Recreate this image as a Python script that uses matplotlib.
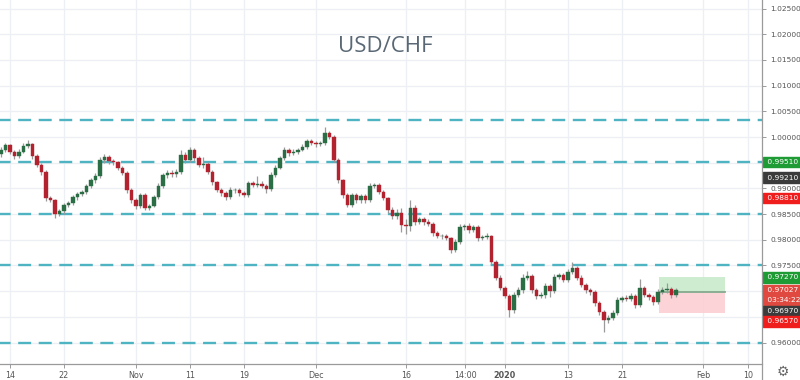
import matplotlib
matplotlib.use('Agg')
import matplotlib.pyplot as plt
import matplotlib.transforms as mtransforms
import numpy as np
import pandas as pd

# ---------------- data ----------------
first_open = 0.9966
closes = [
    0.9975, 0.9984, 0.9971, 0.9963, 0.9971, 0.9982, 0.9986, 0.9963, 0.9946, 0.9932,
    0.9881, 0.9877, 0.9850, 0.9856, 0.9868, 0.9872, 0.9883, 0.9889, 0.9893, 0.9905,
    0.9916, 0.9924, 0.9955, 0.9961, 0.9953, 0.9951, 0.9940, 0.9930, 0.9897, 0.9877,
    0.9866, 0.9888, 0.9862, 0.9866, 0.9883, 0.9905, 0.9926, 0.9930, 0.9928, 0.9932,
    0.9965, 0.9955, 0.9975, 0.9959, 0.9946, 0.9948, 0.9932, 0.9912, 0.9897, 0.9891,
    0.9883, 0.9897, 0.9897, 0.9891, 0.9887, 0.9910, 0.9907, 0.9909, 0.9905, 0.9899,
    0.9926, 0.9940, 0.9959, 0.9975, 0.9969, 0.9971, 0.9975, 0.9981, 0.9992, 0.9988,
    0.9986, 0.9988, 1.0008, 1.0000, 0.9955, 0.9916, 0.9887, 0.9868, 0.9887, 0.9877,
    0.9885, 0.9877, 0.9905, 0.9907, 0.9893, 0.9881, 0.9858, 0.9846, 0.9852, 0.9829,
    0.9827, 0.9862, 0.9835, 0.9840, 0.9835, 0.9831, 0.9813, 0.9807, 0.9807, 0.9803,
    0.9780, 0.9796, 0.9825, 0.9827, 0.9819, 0.9825, 0.9803, 0.9805, 0.9807, 0.9757,
    0.9726, 0.9706, 0.9691, 0.9663, 0.9693, 0.9702, 0.9726, 0.9729, 0.9702, 0.9691,
    0.9693, 0.9710, 0.9700, 0.9728, 0.9731, 0.9722, 0.9737, 0.9745, 0.9726, 0.9712,
    0.9702, 0.9698, 0.9677, 0.9659, 0.9644, 0.9648, 0.9658, 0.9683, 0.9687, 0.9685,
    0.9691, 0.9673, 0.9706, 0.9693, 0.9689, 0.9679, 0.9698, 0.9702, 0.9704, 0.9693,
    0.97027,
]
upper_wick_pips = [
    5, 4, 3, 4, 5, 6, 9, 3, 4, 4,
    3, 4, 3, 4, 4, 3, 5, 4, 3, 4,
    4, 5, 6, 6, 4, 4, 3, 3, 4, 3,
    4, 4, 3, 4, 4, 5, 4, 5, 6, 5,
    10, 5, 5, 4, 5, 14, 3, 4, 3, 4,
    4, 5, 4, 3, 4, 5, 4, 16, 5, 4,
    5, 6, 4, 6, 4, 5, 4, 5, 5, 4,
    5, 4, 12, 4, 3, 4, 3, 5, 4, 5,
    4, 5, 5, 4, 3, 4, 3, 6, 8, 10,
    12, 15, 5, 5, 4, 5, 4, 5, 4, 5,
    3, 5, 5, 4, 5, 4, 3, 5, 6, 3,
    4, 5, 4, 4, 5, 6, 8, 11, 4, 4,
    6, 5, 4, 5, 4, 5, 6, 12, 4, 5,
    4, 5, 4, 3, 4, 5, 6, 5, 4, 5,
    5, 4, 17, 5, 4, 4, 6, 7, 11, 5,
    4,
]
lower_wick_pips = [
    4, 5, 4, 5, 4, 3, 4, 5, 4, 5,
    5, 4, 8, 4, 5, 4, 4, 5, 4, 3,
    4, 5, 4, 5, 6, 5, 4, 4, 5, 6,
    7, 4, 5, 4, 3, 4, 4, 5, 6, 5,
    4, 5, 4, 5, 4, 6, 4, 5, 4, 5,
    5, 4, 6, 5, 4, 4, 5, 4, 5, 8,
    4, 4, 3, 4, 5, 4, 4, 3, 4, 4,
    5, 4, 3, 4, 4, 5, 6, 5, 4, 6,
    5, 5, 4, 5, 4, 4, 5, 5, 6, 14,
    16, 10, 6, 5, 6, 5, 5, 4, 5, 4,
    5, 4, 4, 5, 5, 4, 5, 4, 4, 5,
    5, 4, 5, 13, 5, 4, 5, 4, 5, 6,
    5, 6, 12, 4, 5, 5, 4, 4, 5, 4,
    5, 6, 5, 6, 24, 5, 4, 4, 5, 4,
    5, 6, 4, 5, 6, 5, 4, 4, 5, 6,
    4,
]
first_bar_day = '2019-10-11'
bar_hours = [0, 12]
holidays = ['2019-11-28', '2019-12-25', '2020-01-01']

levels = [1.0034, 0.9951, 0.9851, 0.9750, 0.9600]

tick_times = ['2019-10-14', '2019-10-22', '2019-11-01', '2019-11-11', '2019-11-19',
              '2019-12-02', '2019-12-16', '2019-12-24 14:00', '2020-01-02',
              '2020-01-13', '2020-01-21', '2020-02-03', '2020-02-10']
tick_labels = ['14', '22', 'Nov', '11', '19', 'Dec', '16', '14:00', '2020',
               '13', '21', 'Feb', '10']

price_ticks = [0.960, 0.975, 0.980, 0.985, 0.990, 1.000, 1.005, 1.010, 1.015, 1.020, 1.025]

pos_start, pos_end = '2020-01-27 03:00', '2020-02-05 10:00'
pos_target, pos_entry, pos_stop = 0.9727, 0.9697, 0.9657

marker_texts = ['0.99510', '0.99210', '0.98810', '0.97270']
marker_values = [0.9951, 0.9921, 0.9881, 0.9727]
marker_colors = ['#1e9b34', '#3b3b3b', '#f01d1d', '#1e9b34']
last_price = 0.97027
countdown = '03:34:22'

# ---------------- time -> position (trading-day index) ----------------
bdays = pd.bdate_range('2019-10-01', '2020-02-28')
bdays = bdays[~bdays.isin(pd.to_datetime(holidays))]
origin = list(bdays).index(pd.Timestamp('2019-10-14'))
day_pos = {d: i - origin for i, d in enumerate(bdays)}


def tpos(ts):
    ts = pd.Timestamp(ts)
    d = ts.normalize()
    return day_pos[d] + (ts - d) / pd.Timedelta('1D')


bar_times = []
for d in bdays[bdays >= pd.Timestamp(first_bar_day)]:
    for h in bar_hours:
        bar_times.append(d + pd.Timedelta(hours=h))
bar_times = bar_times[:len(closes)]
xb = np.array([tpos(t) for t in bar_times])

c = np.array(closes)
o = np.concatenate([[first_open], c[:-1]])
hi = np.maximum(o, c) + np.array(upper_wick_pips) * 1e-4
lo = np.minimum(o, c) - np.array(lower_wick_pips) * 1e-4

# ---------------- figure ----------------
W, H = 800, 380
fig = plt.figure(figsize=(W / 100, H / 100), dpi=100)
fig.patch.set_facecolor('white')
ax = fig.add_axes([0, 16 / H, 762 / W, 364 / H])

ax.set_xlim(-1.11, 83.56)
ax.set_ylim(0.95583, 1.02666)

grid_c = '#eceff3'
for v in np.arange(0.955, 1.0300, 0.005):
    ax.axhline(v, color=grid_c, lw=0.9, zorder=0)
tick_pos = [tpos(t) for t in tick_times]
for p in tick_pos:
    ax.axvline(p, color=grid_c, lw=0.9, zorder=0)

# dashed levels
for lv in levels:
    ax.axhline(lv, color='#4eb4c2', lw=1.7, linestyle=(1, (5.5, 3.2)), zorder=2)

# candles
up = c >= o
wick_c = '#9a9a9a'
ax.vlines(xb, lo, hi, color=wick_c, lw=0.9, zorder=3)
body_w = 0.4
colors = np.where(up, '#2b6e46', '#b3232f')
ax.bar(xb, np.maximum(np.abs(c - o), 0.00006), bottom=np.minimum(o, c), width=body_w,
       color=colors, edgecolor=colors, linewidth=0.3, zorder=4)

# position tool
x0, x1 = tpos(pos_start), tpos(pos_end)
ax.fill_between([x0, x1], pos_entry, pos_target, color='#c9ebcb', alpha=0.9, zorder=1.5, lw=0)
ax.fill_between([x0, x1], pos_stop, pos_entry, color='#fccfd3', alpha=0.9, zorder=1.5, lw=0)
ax.plot([x0, x1], [pos_entry + 0.0001, pos_entry + 0.0001], color='#86a98e', lw=1.3, zorder=2.5)

# axes styling
for s in ['top', 'left', 'right']:
    ax.spines[s].set_visible(False)
ax.spines['bottom'].set_color('#9a9a9a')
ax.spines['bottom'].set_linewidth(0.9)

FS = 5.4
ax.yaxis.tick_right()
ax.set_yticks(price_ticks)
ax.set_yticklabels(['%.5f' % v for v in price_ticks])
ax.tick_params(axis='y', length=3, width=0.7, color='#9a9a9a', labelsize=FS,
               labelcolor='#555555', pad=3)
ax.set_xticks(tick_pos)
ax.set_xticklabels(tick_labels)
ax.tick_params(axis='x', length=3, width=0.7, color='#9a9a9a', labelsize=FS + 0.4,
               labelcolor='#555555', pad=2)
for lbl in ax.get_xticklabels():
    if lbl.get_text() == '2020':
        lbl.set_fontweight('bold')

# price axis separator line
fig.add_artist(plt.Line2D([762 / W, 762 / W], [0, 1], color='#9a9a9a', lw=0.9,
                          transform=fig.transFigure))

# price markers on axis
trans = mtransforms.blended_transform_factory(ax.transAxes, ax.transData)
box_kw = dict(boxstyle='square,pad=0.3')
for t, v, col in zip(marker_texts, marker_values, marker_colors):
    ax.text(1.0045, v, ' ' + t, transform=trans, ha='left', va='center',
            fontsize=FS, color='white', clip_on=False, zorder=6,
            bbox=dict(facecolor=col, edgecolor=col, **box_kw))

stack = [('%.5f' % last_price, '#e0493f', 0), (countdown, '#e0493f', -10.5),
         ('%.5f' % pos_entry, '#3b3b3b', -21), ('%.5f' % pos_stop, '#f01d1d', -31.5)]
for t, col, off in stack:
    ax.annotate(' ' + t, xy=(1.0045, last_price), xycoords=trans,
                xytext=(0, off * 0.72), textcoords='offset points', ha='left',
                va='center', fontsize=FS, color='white', annotation_clip=False,
                zorder=6, bbox=dict(facecolor=col, edgecolor=col, **box_kw))

# title
fig.text(385 / W, 1 - 46 / H, 'USD/CHF', ha='center', va='center', fontsize=16,
         color='#5a6875', family='Open Sans')

# settings gear
fig.text(783 / W, 1 - 372 / H, '\u2699', ha='center', va='center', fontsize=10,
         color='#666666', family='DejaVu Sans')

fig.savefig('out.png', dpi=100, facecolor='white')
